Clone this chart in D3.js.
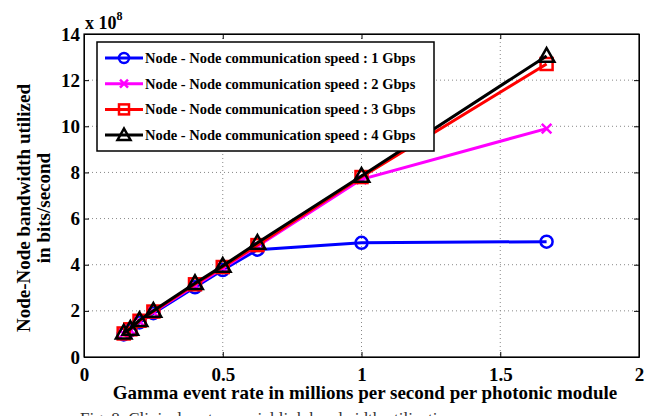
<!DOCTYPE html>
<html lang="en">
<head>
<meta charset="utf-8">
<title>Node-Node bandwidth</title>
<script src="https://d3js.org/d3.v7.min.js"></script>
<style>
  body { margin: 0; background: #fff; }
  svg text { font-family: "Liberation Serif", "Times New Roman", "DejaVu Serif", serif !important; }
</style>
</head>
<body>
<script>
// data (values in units of 1e8 bits/second)
let rates = [0.143, 0.167, 0.2, 0.25, 0.4, 0.5, 0.625, 1.0, 1.667];
let speed1 = [0.98, 1.15, 1.5, 1.9, 3.02, 3.77, 4.65, 4.95, 5.0];
let speed2 = [1.0, 1.17, 1.55, 1.95, 3.1, 3.85, 4.8, 7.7, 9.9];
let speed3 = [1.02, 1.2, 1.57, 1.97, 3.15, 3.9, 4.85, 7.8, 12.7];
let speed4 = [1.05, 1.22, 1.6, 2.0, 3.2, 3.95, 4.95, 7.85, 13.05];
let seriesNames = ["Node - Node communication speed : 1 Gbps",
                   "Node - Node communication speed : 2 Gbps",
                   "Node - Node communication speed : 3 Gbps",
                   "Node - Node communication speed : 4 Gbps"];
let xTicks = [0, 0.5, 1, 1.5, 2];
let yTicks = [0, 2, 4, 6, 8, 10, 12, 14];

let w = 658, h = 416;
let margin = {left: 84, top: 34, right: 19, bottom: 59};
let pw = w - margin.left - margin.right;
let ph = h - margin.top - margin.bottom;
let serif = "Liberation Serif";

let series = [
  {name: seriesNames[0], vals: speed1, color: "#0000ff", marker: "circle"},
  {name: seriesNames[1], vals: speed2, color: "#ff00ff", marker: "x"},
  {name: seriesNames[2], vals: speed3, color: "#ff0000", marker: "square"},
  {name: seriesNames[3], vals: speed4, color: "#000000", marker: "triangle"}
];

let x = d3.scaleLinear().domain([0, 2]).range([0, pw]);
let y = d3.scaleLinear().domain([0, 14]).range([ph, 0]);

let svg = d3.select("body").append("svg")
  .attr("width", w).attr("height", h)
  .attr("font-family", serif);

let g = svg.append("g")
  .attr("transform", "translate(" + margin.left + "," + margin.top + ")");

// grid
g.selectAll(".vgrid").data(xTicks.slice(1, -1)).enter().append("line")
  .attr("x1", d => x(d)).attr("x2", d => x(d))
  .attr("y1", 0).attr("y2", ph)
  .attr("stroke", "#888").attr("stroke-width", 1)
  .attr("stroke-dasharray", "1,3");
g.selectAll(".hgrid").data(yTicks.slice(1, -1)).enter().append("line")
  .attr("x1", 0).attr("x2", pw)
  .attr("y1", d => y(d)).attr("y2", d => y(d))
  .attr("stroke", "#888").attr("stroke-width", 1)
  .attr("stroke-dasharray", "1,3");

// axes, ticks inside
let xAxis = d3.axisBottom(x).tickValues(xTicks).tickSizeInner(-5).tickSizeOuter(0)
  .tickFormat(d3.format("~g")).tickPadding(10.5);
let yAxis = d3.axisLeft(y).tickValues(yTicks).tickSizeInner(-5).tickSizeOuter(0)
  .tickPadding(4);

let gx = g.append("g").attr("transform", "translate(0," + ph + ")").call(xAxis);
let gy = g.append("g").call(yAxis);
g.append("g").call(d3.axisTop(x).tickValues(xTicks).tickSizeInner(-5).tickSizeOuter(0).tickFormat(""));
g.append("g").attr("transform", "translate(" + pw + ",0)")
  .call(d3.axisRight(y).tickValues(yTicks).tickSizeInner(-5).tickSizeOuter(0).tickFormat(""));

svg.selectAll(".domain").attr("stroke", "#000");
svg.selectAll(".tick line").attr("stroke", "#000");
g.selectAll("g").attr("font-family", serif);
[gx, gy].forEach(a => a.selectAll("text")
  .attr("font-family", serif).attr("font-size", 19)
  .attr("font-weight", "bold").attr("fill", "#000"));

g.append("rect").attr("width", pw).attr("height", ph)
  .attr("fill", "none").attr("stroke", "#000").attr("stroke-width", 1.2);

// exponent label
let ex = svg.append("text").attr("x", margin.left + 1).attr("y", 29)
  .attr("font-size", 18).attr("font-weight", "bold");
ex.append("tspan").text("x 10");
ex.append("tspan").attr("dy", -9).attr("font-size", 12).text("8");

// marker drawing
function drawMarker(sel, type, color, size) {
  if (type === "circle") {
    sel.append("circle").attr("r", size).attr("fill", "none")
      .attr("stroke", color).attr("stroke-width", 2.5);
  } else if (type === "square") {
    sel.append("rect").attr("x", -size).attr("y", -size)
      .attr("width", size * 2).attr("height", size * 2)
      .attr("fill", "none").attr("stroke", color).attr("stroke-width", 2.5);
  } else if (type === "triangle") {
    let s = size * 1.3;
    sel.append("path").attr("d", "M0," + (-s) + "L" + s + "," + (s * 0.75) + "L" + (-s) + "," + (s * 0.75) + "Z")
      .attr("fill", "none").attr("stroke", color).attr("stroke-width", 2.5);
  } else {
    let s = size * 0.8;
    sel.append("path").attr("d", "M" + (-s) + "," + (-s) + "L" + s + "," + s + "M" + (-s) + "," + s + "L" + s + "," + (-s))
      .attr("fill", "none").attr("stroke", color).attr("stroke-width", 2.5);
  }
}

let line = d3.line().x(d => x(d[0])).y(d => y(d[1]));

series.forEach(s => {
  let pts = rates.map((r, i) => [r, s.vals[i]]);
  g.append("path").datum(pts).attr("d", line)
    .attr("fill", "none").attr("stroke", s.color).attr("stroke-width", 3);
  g.selectAll(null).data(pts).enter().append("g")
    .attr("transform", d => "translate(" + x(d[0]) + "," + y(d[1]) + ")")
    .each(function() { drawMarker(d3.select(this), s.marker, s.color, 6); });
});

// legend
let lg = svg.append("g").attr("transform", "translate(97,42)");
lg.append("rect").attr("width", 337).attr("height", 109)
  .attr("fill", "#fff").attr("stroke", "#000").attr("stroke-width", 1.5);
series.forEach((s, i) => {
  let yy = 16 + i * 25.7;
  lg.append("line").attr("x1", 8).attr("x2", 46).attr("y1", yy).attr("y2", yy)
    .attr("stroke", s.color).attr("stroke-width", 3);
  let m = lg.append("g").attr("transform", "translate(27," + yy + ")");
  drawMarker(m, s.marker, s.color, 5);
  lg.append("text").attr("x", 48).attr("y", yy + 5)
    .attr("font-size", 14.5).attr("font-weight", "bold").text(s.name);
});

// axis titles
svg.append("text").attr("x", 365).attr("y", 399).attr("text-anchor", "middle")
  .attr("font-size", 19).attr("font-weight", "bold")
  .text("Gamma event rate in millions per second per photonic module");

svg.append("text").attr("transform", "translate(30,208) rotate(-90)")
  .attr("text-anchor", "middle").attr("font-size", 19).attr("font-weight", "bold")
  .text("Node-Node bandwidth utilized");
svg.append("text").attr("transform", "translate(50,208) rotate(-90)")
  .attr("text-anchor", "middle").attr("font-size", 19).attr("font-weight", "bold")
  .text("in bits/second");

// figure caption, cut off at the bottom edge
svg.append("text").attr("x", 80).attr("y", 424).attr("font-size", 17)
  .attr("fill", "#333").text("Fig. 8. Clinical system serial link bandwidth utilization");
</script>
</body>
</html>
